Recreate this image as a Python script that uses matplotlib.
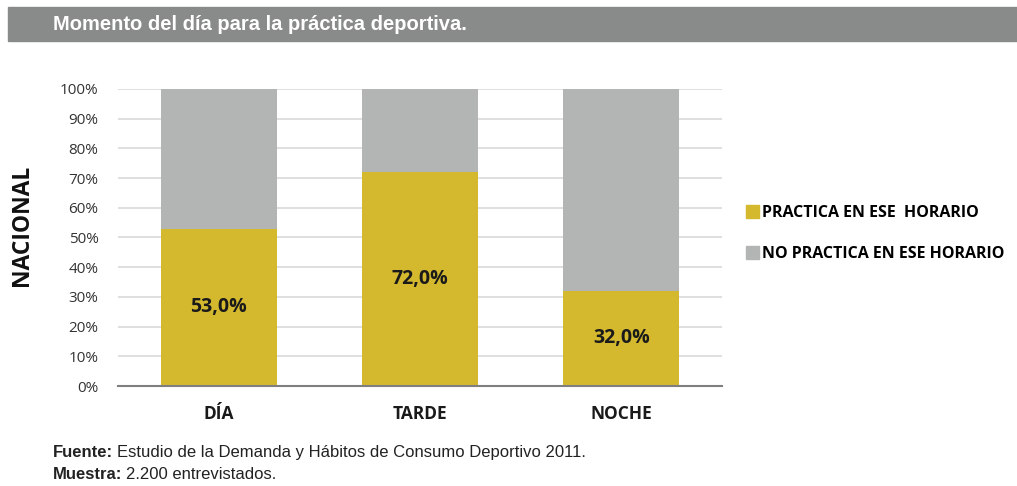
import matplotlib
matplotlib.use("Agg")
import matplotlib.pyplot as plt
from matplotlib.patches import Rectangle, Patch
from matplotlib.ticker import FuncFormatter

categories = ["DÍA", "TARDE", "NOCHE"]
practica = [53.0, 72.0, 32.0]
no_practica = [47.0, 28.0, 68.0]
series_names = ["PRACTICA EN ESE  HORARIO", "NO PRACTICA EN ESE HORARIO"]
yticks = [0, 10, 20, 30, 40, 50, 60, 70, 80, 90, 100]

YELLOW = "#d4b92f"
GREY = "#b3b4b4"

W, H = 1017, 486
fig = plt.figure(figsize=(W / 100, H / 100), dpi=100)
fig.patch.set_facecolor("white")

def fx(px):
    return px / W

def fy(py):
    return 1 - py / H

# title bar
fig.patches.append(Rectangle((fx(8), fy(41)), fx(1017) - fx(8), fy(7) - fy(41),
                             transform=fig.transFigure, color="#898b8b", zorder=0))
fig.text(fx(53), fy(24), "Momento del día para la práctica deportiva.", color="white",
         fontsize=14.5, fontweight="bold", family=["Liberation Sans", "DejaVu Sans"],
         va="center", ha="left")

ax = fig.add_axes([fx(118), fy(386), fx(722) - fx(118), fy(89) - fy(386)])
x = range(len(categories))
ax.bar(x, practica, width=0.575, color=YELLOW, zorder=3)
ax.bar(x, no_practica, bottom=practica, width=0.575, color=GREY, zorder=3)

for i, v in enumerate(practica):
    ax.text(i, v / 2, f"{v:.1f}%".replace(".", ","), ha="center", va="center",
            fontsize=14, fontweight="bold", family=["Open Sans", "DejaVu Sans"], color="#1a1a1a", zorder=4)

ax.set_xlim(-0.5, 2.5)
ax.set_ylim(0, 100)
ax.set_yticks(yticks)
ax.yaxis.set_major_formatter(FuncFormatter(lambda v, p: f"{int(v)}%"))
ax.set_xticks(list(x))
ax.set_xticklabels(categories, fontsize=12.5, fontweight="bold", family=["Open Sans", "DejaVu Sans"], color="#1a1a1a")
for lab in ax.get_yticklabels():
    lab.set_fontsize(11)
    lab.set_family(["Open Sans", "DejaVu Sans"])
    lab.set_color("#333333")
ax.tick_params(axis="both", length=0)
ax.tick_params(axis="y", pad=14)
ax.tick_params(axis="x", pad=14)
ax.grid(axis="y", color="#d9d9d9", linewidth=1.2, zorder=0)
for s in ["top", "right", "left"]:
    ax.spines[s].set_visible(False)
ax.spines["bottom"].set_color("#7f7f7f")
ax.spines["bottom"].set_linewidth(1.5)
ax.spines["bottom"].set_zorder(5)

fig.text(fx(22), fy(225), "NACIONAL", rotation=90, ha="center", va="center",
         fontsize=16.5, fontweight="bold", family=["Open Sans", "DejaVu Sans"], color="#111111")

handles = [Patch(color=YELLOW), Patch(color=GREY)]
fig.legend(handles, series_names, loc="upper left", bbox_to_anchor=(fx(732), fy(191)),
           frameon=False, handlelength=0.8, handleheight=0.85, handletextpad=0.2,
           labelspacing=1.55, prop={"family": ["Open Sans", "DejaVu Sans"], "weight": "bold", "size": 11.5})

# footer
fig.canvas.draw()
renderer = fig.canvas.get_renderer()

def bold_then_normal(px, py, bold, normal):
    t = fig.text(fx(px), fy(py), bold, fontsize=12, fontweight="bold",
                 family=["Liberation Sans", "DejaVu Sans"], color="#222222", va="center", ha="left")
    bb = t.get_window_extent(renderer=renderer)
    fig.text(bb.x1 / W + fx(4), fy(py), normal, fontsize=12,
             family=["Liberation Sans", "DejaVu Sans"], color="#222222", va="center", ha="left")

bold_then_normal(53, 452, "Fuente:", "Estudio de la Demanda y Hábitos de Consumo Deportivo 2011.")
bold_then_normal(53, 474, "Muestra:", "2.200 entrevistados.")

fig.savefig("out.png", dpi=100)
